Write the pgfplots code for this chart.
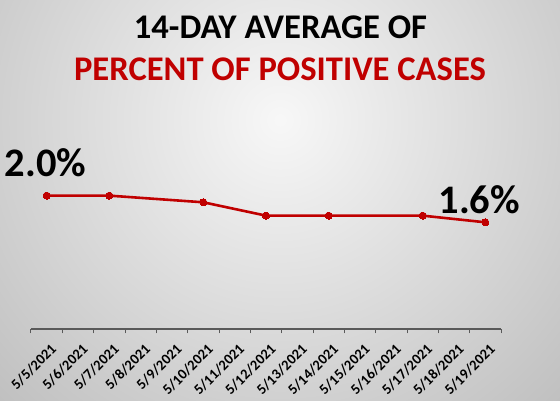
\documentclass[border=0pt]{standalone}
\usepackage{pgfplots}
\pgfplotsset{compat=1.18}
\usepackage{fontspec}
\setmainfont{Carlito}
\definecolor{ttred}{HTML}{C00000}
\definecolor{axgray}{HTML}{595959}
\begin{document}
\begin{tikzpicture}[x=1pt,y=1pt]
\useasboundingbox (0,0) rectangle (560,401);
\begin{scope}
\clip (0,0) rectangle (560,401);
\shade[inner color=white!97!black, outer color=white!74!black] (280,281) circle (420);
\end{scope}
\node[anchor=base, font=\bfseries\fontsize{34.6}{34.6}\selectfont, text=black, inner sep=0pt] at (280.5,362.7) {14-DAY AVERAGE OF};
\node[anchor=base, font=\bfseries\fontsize{34.6}{34.6}\selectfont, text=ttred, inner sep=0pt] at (280,320) {PERCENT OF POSITIVE CASES};
\begin{axis}[
  at={(31pt,72pt)}, anchor=south west,
  scale only axis, width=470pt, height=166.7pt,
  xmin=-0.5, xmax=14.5, ymin=0, ymax=2.5,
  axis x line*=bottom, axis y line=none,
  x axis line style={draw=axgray, line width=1.1pt},
  xtick={0,...,14},
  xticklabels={5/5/2021,5/6/2021,5/7/2021,5/8/2021,5/9/2021,5/10/2021,5/11/2021,5/12/2021,5/13/2021,5/14/2021,5/15/2021,5/16/2021,5/17/2021,5/18/2021,5/19/2021},
  major tick length=0pt,
  minor xtick={-0.5,0.5,...,14.5},
  minor tick length=4.5pt,
  tick align=outside,
  every tick/.style={draw=axgray, line width=1pt},
  xticklabel style={rotate=45, anchor=north east, font=\bfseries\fontsize{14.6}{14.6}\selectfont, inner sep=0pt, text=black, xshift=-7.4pt, yshift=-12pt},
  clip=false,
]
\addplot[color=ttred, line width=2.6pt, mark=*, mark size=3.6pt, mark options={fill=ttred, draw=ttred, line width=0pt}]
  coordinates {(0,2.0) (2,2.0) (5,1.9) (7,1.7) (9,1.7) (12,1.7) (14,1.6)};
\addplot[draw=none, mark=none, nodes near coords, point meta=explicit symbolic,
  every node near coord/.style={anchor=base, font=\bfseries\fontsize{40.5}{40.5}\selectfont, text=black, inner sep=0pt, yshift=19pt, xshift=-1pt}]
  coordinates {(0,2.0) [2.0\%]};
\addplot[draw=none, mark=none, nodes near coords, point meta=explicit symbolic,
  every node near coord/.style={anchor=base, font=\bfseries\fontsize{40.5}{40.5}\selectfont, text=black, inner sep=0pt, yshift=9.3pt, xshift=-6pt}]
  coordinates {(14,1.6) [1.6\%]};
\end{axis}
\end{tikzpicture}
\end{document}
